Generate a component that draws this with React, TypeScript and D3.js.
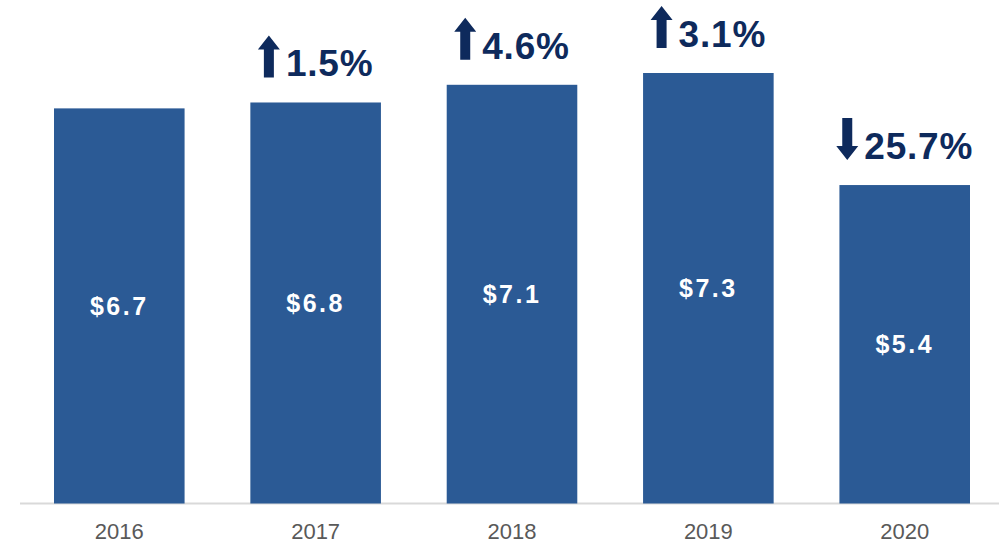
import React, { useEffect } from "react";
import * as d3 from "d3";

const years: string[] = ["2016", "2017", "2018", "2019", "2020"];
const values: number[] = [6.7, 6.8, 7.1, 7.3, 5.4];
const valueLabels: string[] = ["$6.7", "$6.8", "$7.1", "$7.3", "$5.4"];
const changeLabels: (string | null)[] = [null, "1.5%", "4.6%", "3.1%", "25.7%"];
const changeDirs: (string | null)[] = [null, "up", "up", "up", "down"];

const W = 999;
const H = 543;
const BAR = "#2B5A95";
const NAVY = "#0E2A5C";
const FONT = "'Liberation Sans', Arial, Helvetica, sans-serif";

function measure(text: string, font: string, spacing: number): number {
  const c = document.createElement("canvas");
  const ctx = c.getContext("2d");
  if (!ctx) return text.length * 20;
  ctx.font = font;
  return ctx.measureText(text).width + spacing * text.length;
}

export default function App() {
  useEffect(() => {
    document.body.style.margin = "0";
    document.body.style.overflow = "hidden";
  }, []);

  const x = d3.scaleBand<string>().domain(years).range([54, 970]).paddingInner(0.335).paddingOuter(0);
  const y = d3.scaleLinear().domain([0, 7.3]).range([503.5, 73]);
  const baseY = y(0);

  const pctSize = 37;
  const pctSpacing = 0.8;
  const arrowW = 22;
  const arrowH = 42;
  const headH = 14;
  const shaftW = 10;
  const gap = 6;

  return (
    <svg width={W} height={H} style={{ display: "block", background: "#fff", position: "absolute", left: 0, top: 0 }}>
      <line x1={20} x2={W} y1={baseY} y2={baseY} stroke="#D9D9D9" strokeWidth={2} />
      {years.map((yr, i) => {
        const x0 = x(yr)!;
        const bw = x.bandwidth();
        const top = y(values[i]);
        const cx = x0 + bw / 2;
        const label = changeLabels[i];
        let pct: React.ReactNode = null;
        if (label) {
          const tw = measure(label, `bold ${pctSize}px ${FONT}`, pctSpacing);
          const total = arrowW + gap + tw;
          const gx = cx - total / 2;
          const baseline = top - 26;
          const ab = baseline + 1;
          const at = ab - arrowH;
          const ax = gx + arrowW / 2;
          let d: string;
          if (changeDirs[i] === "up") {
            d = `M${ax},${at} L${gx + arrowW},${at + headH} L${ax + shaftW / 2},${at + headH} L${ax + shaftW / 2},${ab} L${ax - shaftW / 2},${ab} L${ax - shaftW / 2},${at + headH} L${gx},${at + headH} Z`;
          } else {
            d = `M${ax},${ab} L${gx + arrowW},${ab - headH} L${ax + shaftW / 2},${ab - headH} L${ax + shaftW / 2},${at} L${ax - shaftW / 2},${at} L${ax - shaftW / 2},${ab - headH} L${gx},${ab - headH} Z`;
          }
          pct = (
            <g>
              <path d={d} fill={NAVY} />
              <text
                x={gx + arrowW + gap}
                y={baseline}
                fill={NAVY}
                fontFamily={FONT}
                fontWeight="bold"
                fontSize={pctSize}
                letterSpacing={pctSpacing}
              >
                {label}
              </text>
            </g>
          );
        }
        return (
          <g key={yr}>
            <rect x={x0} y={top} width={bw} height={baseY - top} fill={BAR} />
            <text
              x={cx}
              y={(top + baseY) / 2}
              textAnchor="middle"
              dominantBaseline="central"
              fill="#FFFFFF"
              fontFamily={FONT}
              fontWeight="bold"
              fontSize={25}
              letterSpacing={2.5}
            >
              {valueLabels[i]}
            </text>
            {pct}
            <text x={cx} y={539} textAnchor="middle" fill="#595959" fontFamily={FONT} fontSize={22}>
              {yr}
            </text>
          </g>
        );
      })}
    </svg>
  );
}
